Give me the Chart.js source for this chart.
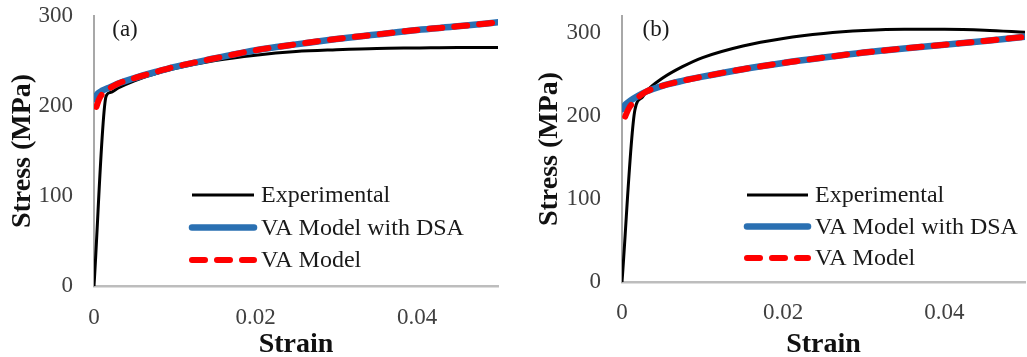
<!DOCTYPE html>
<html lang="en">
<head>
<meta charset="UTF-8">
<title>Stress-strain curves</title>
<script src="https://cdn.jsdelivr.net/npm/chart.js@4"></script>
<style>
  body { margin: 0; background: #fff; }
  canvas { position: absolute; top: 0; }
</style>
</head>
<body>
<canvas id="chartA" width="520" height="357" style="left:0"></canvas>
<canvas id="chartB" width="507" height="357" style="left:520px"></canvas>
<script>
// ---- panel (a) ----
const strainExpA = [0, 0.0015, 0.002, 0.003, 0.005, 0.0075, 0.01, 0.015, 0.02, 0.025, 0.03, 0.035, 0.04, 0.045, 0.05];
const stressExpA = [0, 211, 215, 220, 228, 235.5, 241.5, 250.5, 256.5, 260.5, 262.5, 264, 264.5, 265, 265];
const strainDsaA = [0, 0.0005, 0.001, 0.002, 0.003, 0.005, 0.0075, 0.01, 0.015, 0.02, 0.025, 0.03, 0.035, 0.04, 0.045, 0.05];
const stressDsaA = [208, 214, 217, 221, 225, 231, 237.5, 243.5, 253, 262, 268.5, 274.5, 279.5, 284.5, 288.5, 293];
const strainVaA = [0.0003, 0.0006, 0.001, 0.002, 0.003, 0.005, 0.0075, 0.01, 0.015, 0.02, 0.025, 0.03, 0.035, 0.04, 0.045, 0.05];
const stressVaA = [199, 207, 213, 220, 225, 231, 237.5, 243.5, 253, 262, 268.5, 274.5, 279.5, 284.5, 288.5, 293];

// ---- panel (b) ----
const strainExpB = [0, 0.0016, 0.0025, 0.003, 0.005, 0.0075, 0.01, 0.015, 0.02, 0.025, 0.03, 0.035, 0.04, 0.045, 0.05];
const stressExpB = [0, 207, 222, 229, 245, 259, 270, 284, 293, 299, 302.5, 304, 304, 303, 300.5];
const strainDsaB = [0, 0.0005, 0.001, 0.002, 0.003, 0.005, 0.0075, 0.01, 0.015, 0.02, 0.025, 0.03, 0.035, 0.04, 0.045, 0.05];
const stressDsaB = [208, 214, 218, 224, 229, 236, 242, 247, 256, 263.5, 270, 276, 281, 285.5, 290, 295];
const strainVaB = [0.0004, 0.0008, 0.0016, 0.002, 0.003, 0.005, 0.0075, 0.01, 0.015, 0.02, 0.025, 0.03, 0.035, 0.04, 0.045, 0.05];
const stressVaB = [199, 208, 218, 222, 229, 236, 242, 247, 256, 263.5, 270, 276, 281, 285.5, 290, 295];

const strainTicks = [0, 0.02, 0.04];
const stressTicks = [0, 100, 200, 300];
const seriesNames = ['Experimental', 'VA Model with DSA', 'VA Model'];

const serif = 'Liberation Serif, Times New Roman, serif';

function toPoints(xs, ys) {
  return xs.map((x, i) => ({ x: x, y: ys[i] }));
}

// legend and panel tag drawn inside the plot area
const insideLegend = {
  id: 'insideLegend',
  afterDatasetsDraw(chart, args, opts) {
    const ctx = chart.ctx;
    ctx.save();
    chart.data.datasets.forEach((ds, i) => {
      const y = opts.y + i * opts.rowH;
      ctx.beginPath();
      ctx.strokeStyle = ds.borderColor;
      ctx.lineWidth = ds.borderWidth;
      ctx.lineCap = ds.borderCapStyle || 'butt';
      ctx.setLineDash(ds.borderDash || []);
      ctx.moveTo(opts.x, y);
      ctx.lineTo(opts.x + opts.len, y);
      ctx.stroke();
      ctx.setLineDash([]);
      ctx.fillStyle = '#1a1a1a';
      ctx.font = '24px ' + serif;
      ctx.textAlign = 'left';
      ctx.textBaseline = 'middle';
      ctx.fillText(ds.label, opts.x + opts.len + opts.gap, y + 1);
    });
    ctx.font = '23px ' + serif;
    ctx.textAlign = 'center';
    ctx.fillText(opts.tag, opts.tagX, opts.tagY);
    ctx.restore();
  }
};

function makeChart(id, exp, dsa, va, lay) {
  return new Chart(document.getElementById(id), {
    type: 'scatter',
    data: {
      datasets: [
        { label: seriesNames[0], data: exp, borderColor: '#000000', borderWidth: 3, order: 3 },
        { label: seriesNames[1], data: dsa, borderColor: '#2a70b2', borderWidth: 6.5, borderCapStyle: 'round', order: 2 },
        { label: seriesNames[2], data: va, borderColor: '#ff0000', borderWidth: 6, borderDash: [13, 12], borderCapStyle: 'round', order: 1 }
      ]
    },
    options: {
      responsive: false,
      animation: false,
      showLine: true,
      elements: {
        point: { radius: 0 },
        line: { cubicInterpolationMode: 'monotone', fill: false }
      },
      layout: { padding: { top: 16, right: lay.right, left: 0, bottom: 0 } },
      plugins: {
        legend: { display: false },
        tooltip: { enabled: false },
        insideLegend: lay.legend
      },
      scales: {
        x: {
          type: 'linear',
          min: 0,
          max: 0.05,
          grid: { display: false },
          border: { display: true, color: '#bdbdbd', width: 2.5 },
          afterBuildTicks: s => { s.ticks = strainTicks.map(v => ({ value: v })); },
          afterFit: s => {
            s.height = lay.xHeight;
            s.paddingLeft = 0;
            s.paddingRight = 0;
          },
          ticks: {
            padding: lay.xTickPad,
            maxRotation: 0,
            color: '#404040',
            font: { family: serif, size: 23 },
            callback: v => String(v)
          },
          title: {
            display: true,
            text: 'Strain',
            color: '#111',
            padding: { top: 0, bottom: 0 },
            font: { family: serif, size: 28, weight: 'bold', lineHeight: 0.9 }
          }
        },
        y: {
          type: 'linear',
          min: 0,
          max: lay.yMax,
          grid: { display: false },
          border: { display: true, color: '#a8a8a8', width: 2 },
          afterBuildTicks: s => { s.ticks = stressTicks.map(v => ({ value: v })); },
          afterFit: s => {
            s.width = lay.yWidth;
            s.paddingTop = 0;
            s.paddingBottom = 0;
          },
          ticks: {
            padding: lay.yTickPad,
            color: '#404040',
            font: { family: serif, size: 23 }
          },
          title: {
            display: true,
            text: 'Stress (MPa)',
            color: '#111',
            padding: { top: lay.yTitlePad, bottom: 0 },
            font: { family: serif, size: 28, weight: 'bold' }
          }
        }
      }
    },
    plugins: [insideLegend]
  });
}

makeChart('chartA',
  toPoints(strainExpA, stressExpA),
  toPoints(strainDsaA, stressDsaA),
  toPoints(strainVaA, stressVaA),
  {
    right: 22, yWidth: 94, xHeight: 71, yMax: 300,
    xTickPad: 10, yTickPad: 13, yTitlePad: 6,
    legend: { x: 192, y: 195, rowH: 32.5, len: 62, gap: 7, tag: '(a)', tagX: 125, tagY: 30 }
  });

makeChart('chartB',
  toPoints(strainExpB, stressExpB),
  toPoints(strainDsaB, stressDsaB),
  toPoints(strainVaB, stressVaB),
  {
    right: 2, yWidth: 102, xHeight: 75, yMax: 320,
    xTickPad: 9, yTickPad: 13, yTitlePad: 13,
    legend: { x: 227, y: 195, rowH: 31.5, len: 61, gap: 7, tag: '(b)', tagX: 136, tagY: 30 }
  });
</script>
</body>
</html>
